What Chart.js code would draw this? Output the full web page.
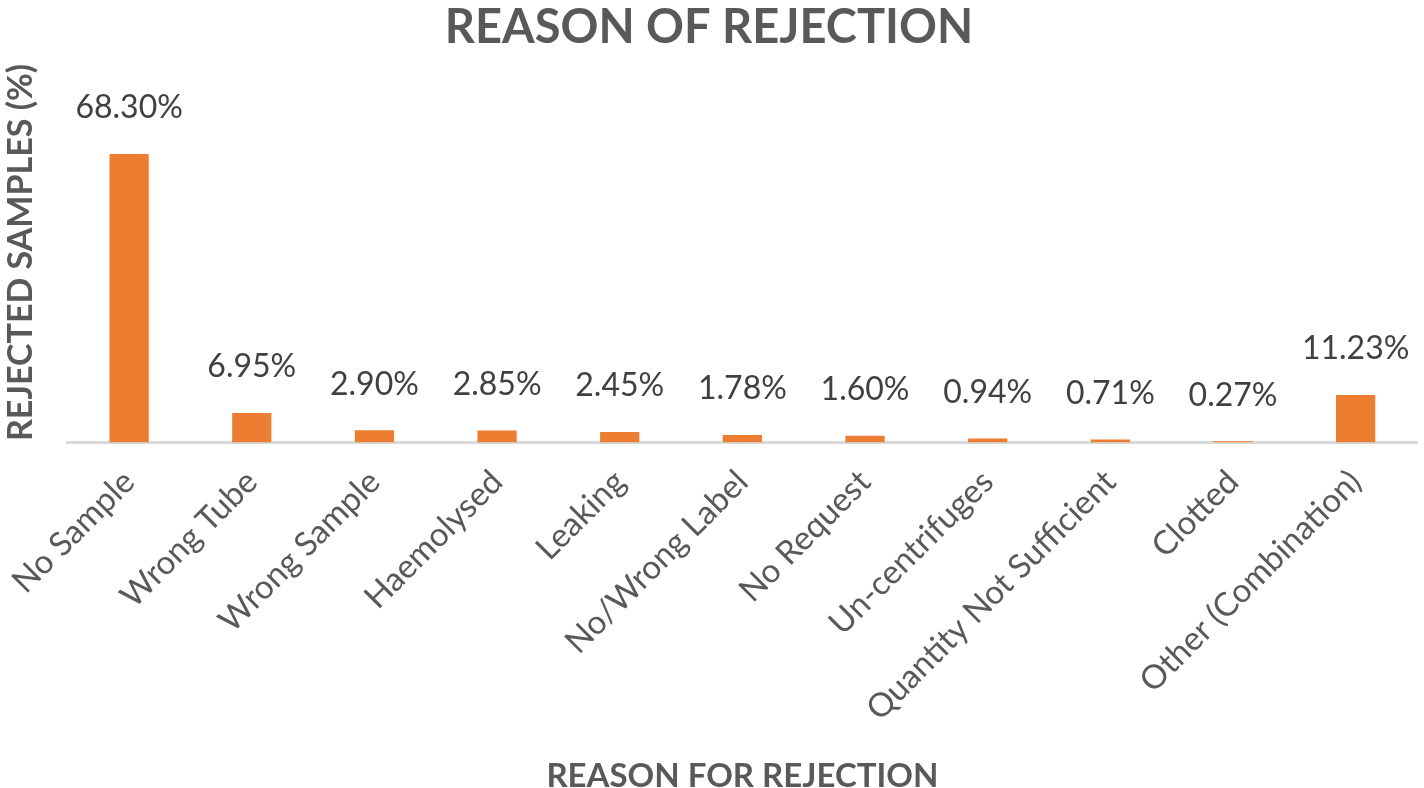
<!DOCTYPE html>
<html>
<head>
<meta charset="utf-8">
<script src="https://cdn.jsdelivr.net/npm/chart.js@4"></script>
<style>
  html, body { margin: 0; padding: 0; background: #fff; }
  #wrap { width: 1424px; height: 788px; }
</style>
</head>
<body>
<div id="wrap"><canvas id="chart"></canvas></div>
<script>
// categories and values
const reasons = [
  'No Sample', 'Wrong Tube', 'Wrong Sample', 'Haemolysed', 'Leaking',
  'No/Wrong Label', 'No Request', 'Un-centrifuges', 'Quantity Not Sufficient',
  'Clotted', 'Other (Combination)'
];
const rejectedPct = [68.30, 6.95, 2.90, 2.85, 2.45, 1.78, 1.60, 0.94, 0.71, 0.27, 11.23];

const FONT = 'Lato, "Open Sans", sans-serif';

// draws the value labels above each bar
const valueLabels = {
  id: 'valueLabels',
  afterDatasetsDraw(chart) {
    const ctx = chart.ctx;
    const meta = chart.getDatasetMeta(0);
    ctx.save();
    ctx.font = '32px ' + FONT;
    ctx.fillStyle = '#404040';
    ctx.textAlign = 'center';
    ctx.textBaseline = 'middle';
    meta.data.forEach((bar, i) => {
      ctx.fillText(rejectedPct[i].toFixed(2) + '%', bar.x, bar.y - 46);
    });
    ctx.restore();
  }
};

new Chart(document.getElementById('chart'), {
  type: 'bar',
  data: {
    labels: reasons,
    datasets: [{
      data: rejectedPct,
      backgroundColor: '#ED7D31',
      barPercentage: 0.64,
      categoryPercentage: 0.5
    }]
  },
  options: {
    responsive: true,
    maintainAspectRatio: false,
    animation: false,
    layout: { padding: { left: 1, right: 7, top: 0, bottom: -8 } },
    plugins: {
      legend: { display: false },
      tooltip: { enabled: false },
      title: {
        display: true,
        text: 'REASON OF REJECTION',
        color: '#595959',
        font: { family: FONT, size: 47, weight: 'bold' },
        padding: { top: 0, bottom: 6 }
      }
    },
    scales: {
      x: {
        grid: { display: false },
        border: { color: '#d9d9d9', width: 3 },
        ticks: {
          color: '#595959',
          font: { family: FONT, size: 33 },
          maxRotation: 45,
          minRotation: 45,
          autoSkip: false,
          padding: 12
        },
        title: {
          display: true,
          text: 'REASON FOR REJECTION',
          color: '#595959',
          font: { family: FONT, size: 33, weight: 'bold' },
          padding: { top: 16, bottom: 0 }
        }
      },
      y: {
        min: 0,
        max: 90,
        grid: { display: false },
        border: { display: false },
        ticks: { display: false },
        title: {
          display: true,
          text: 'REJECTED SAMPLES (%)',
          color: '#595959',
          font: { family: FONT, size: 34, weight: 'bold' },
          padding: { top: 0, bottom: 18 }
        }
      }
    }
  },
  plugins: [valueLabels]
});
</script>
</body>
</html>
